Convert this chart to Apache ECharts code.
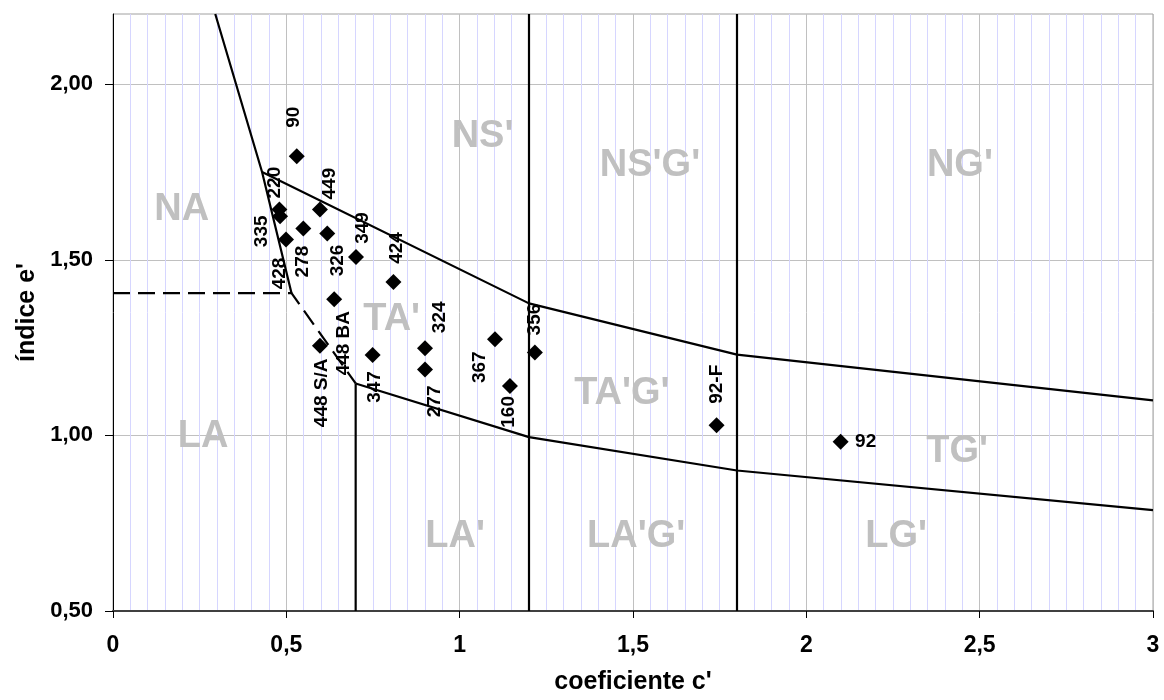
<!DOCTYPE html>
<html>
<head>
<meta charset="utf-8">
<script src="https://cdn.jsdelivr.net/npm/echarts@6/dist/echarts.min.js"></script>
<style>
html,body{margin:0;padding:0;background:#fff;}
#chart{width:1164px;height:700px;}
</style>
</head>
<body>
<div id="chart"></div>
<script>
// ---- data ----
const xTickLabels = ['0', '0,5', '1', '1,5', '2', '2,5', '3'];
const yTickValues = [0.5, 1.0, 1.5, 2.0];
const yTickLabels = ['0,50', '1,00', '1,50', '2,00'];

const pointNames = ['90', '220', '335', '428', '278', '449', '326', '349', '424', '448 BA', '448 S/A', '347', '324', '277', '367', '160', '356', '92-F', '92'];
const pointC = [0.530, 0.480, 0.482, 0.499, 0.549, 0.597, 0.618, 0.701, 0.809, 0.638, 0.597, 0.749, 0.900, 0.900, 1.102, 1.145, 1.217, 1.741, 2.099];
const pointE = [1.795, 1.643, 1.624, 1.558, 1.589, 1.643, 1.575, 1.508, 1.437, 1.388, 1.255, 1.229, 1.248, 1.188, 1.274, 1.141, 1.236, 1.029, 0.982];

// boundary lines (c', e')
const steepLine = [[0.295, 2.2], [0.43, 1.75], [0.515, 1.405]];
const upperLine = [[0.43, 1.75], [1.2, 1.376], [1.8, 1.23], [3.0, 1.10]];
const lowerLine = [[0.70, 1.148], [1.2, 0.995], [1.8, 0.90], [3.0, 0.787]];
const dashedLine = [[0.0, 1.405], [0.515, 1.405], [0.70, 1.148]];
const vLine07 = [[0.70, 0.5], [0.70, 1.148]];
const vLine12 = [[1.2, 0.5], [1.2, 2.2]];
const vLine18 = [[1.8, 0.5], [1.8, 2.2]];

// zone labels
const regionNames = ['NA', "NS'", "NS'G'", "NG'", "TA'", "TA'G'", "TG'", 'LA', "LA'", "LA'G'", "LG'"];
const regionC = [0.198, 1.066, 1.549, 2.443, 0.804, 1.468, 2.435, 0.260, 0.987, 1.509, 2.259];
const regionE = [1.644, 1.852, 1.769, 1.769, 1.331, 1.120, 0.953, 0.998, 0.711, 0.711, 0.711];

// ---- style: label offsets (px, relative to marker centre) ----
const labelOffsets = [[-3, -39], [-5, -27], [-18, 15], [-6, 34], [-1, 33], [10, -26], [11, 27], [7, -29], [3, -34], [10, 44], [2, 47], [2, 32], [15, -31], [10, 32], [-15, 28], [-1, 26], [0, -33], [0, -41], [25, 0]];
const labelRotate = pointNames.map(n => n === '92' ? 0 : 90);
const SYM = 16;

const FONT = 'Arial, "Liberation Sans", Helvetica, sans-serif';

const pointData = pointNames.map((n, i) => ({
  name: n,
  value: [pointC[i], pointE[i]],
  label: {
    show: true,
    formatter: n,
    position: [SYM / 2 + labelOffsets[i][0], SYM / 2 + labelOffsets[i][1]],
    rotate: labelRotate[i],
    align: 'center',
    verticalAlign: 'middle'
  }
}));

const regionData = regionNames.map((n, i) => ({ name: n, value: [regionC[i], regionE[i]] }));

function lineSeries(data, dashed) {
  return {
    type: 'line',
    data: data,
    showSymbol: false,
    symbol: 'none',
    silent: true,
    animation: false,
    z: 3,
    lineStyle: { color: '#000', width: 2.2, opacity: 1, type: dashed ? [17, 8] : 'solid' }
  };
}

const chart = echarts.init(document.getElementById('chart'), null, { renderer: 'canvas' });
chart.setOption({
  animation: false,
  backgroundColor: '#fff',
  grid: {
    left: 113, right: 11, top: 14, bottom: 89,
    show: true, borderColor: '#a0a0a0', borderWidth: 1, backgroundColor: 'transparent'
  },
  xAxis: {
    type: 'value',
    min: 0, max: 3, interval: 0.5,
    name: "coeficiente c'",
    nameLocation: 'middle',
    nameGap: 59,
    nameTextStyle: { fontFamily: FONT, fontWeight: 'bold', fontSize: 25, color: '#000' },
    axisLine: { show: true, onZero: false, lineStyle: { color: '#404040', width: 2 } },
    axisTick: { show: true, inside: false, length: 7, lineStyle: { color: '#000' } },
    minorTick: { show: false, splitNumber: 10 },
    axisLabel: {
      margin: 23, fontFamily: FONT, fontWeight: 'bold', fontSize: 23, color: '#000',
      formatter: v => xTickLabels[Math.round(v / 0.5)]
    },
    splitLine: { show: true, lineStyle: { color: '#c0c0c0', width: 1 } },
    minorSplitLine: { show: true, lineStyle: { color: '#d6d6ff', width: 1 } }
  },
  yAxis: {
    type: 'value',
    min: 0.5, max: 2.2, interval: 0.1,
    name: "índice e'",
    nameLocation: 'middle',
    nameGap: 72,
    nameRotate: 90,
    nameTextStyle: { fontFamily: FONT, fontWeight: 'bold', fontSize: 25, color: '#000' },
    axisLine: { show: true, onZero: false, lineStyle: { color: '#000', width: 1 } },
    axisTick: { show: true, inside: false, length: 8, customValues: yTickValues, lineStyle: { color: '#000' } },
    axisLabel: {
      margin: 20, fontFamily: FONT, fontWeight: 'bold', fontSize: 22, color: '#000',
      customValues: yTickValues,
      formatter: v => yTickLabels[Math.round((v - 0.5) / 0.5)]
    },
    splitLine: { show: true, lineStyle: { color: '#c0c0c0', width: 1 } }
  },
  series: [
    {
      type: 'scatter',
      data: regionData,
      symbol: 'circle',
      symbolSize: 1,
      itemStyle: { color: 'rgba(0,0,0,0)', opacity: 1 },
      silent: true,
      z: 1,
      label: {
        show: true,
        position: 'inside',
        formatter: p => p.name,
        fontFamily: FONT, fontWeight: 'bold', fontSize: 38, color: '#c0c0c0',
        align: 'center', verticalAlign: 'middle'
      }
    },
    lineSeries(steepLine, false),
    lineSeries(upperLine, false),
    lineSeries(lowerLine, false),
    lineSeries(dashedLine, true),
    lineSeries(vLine07, false),
    lineSeries(vLine12, false),
    lineSeries(vLine18, false),
    {
      type: 'scatter',
      data: pointData,
      symbol: 'diamond',
      symbolSize: SYM,
      itemStyle: { color: '#000', opacity: 1 },
      silent: true,
      z: 5,
      label: {
        show: true,
        fontFamily: FONT, fontWeight: 'bold', fontSize: 19, color: '#000'
      }
    }
  ]
});
</script>
</body>
</html>
